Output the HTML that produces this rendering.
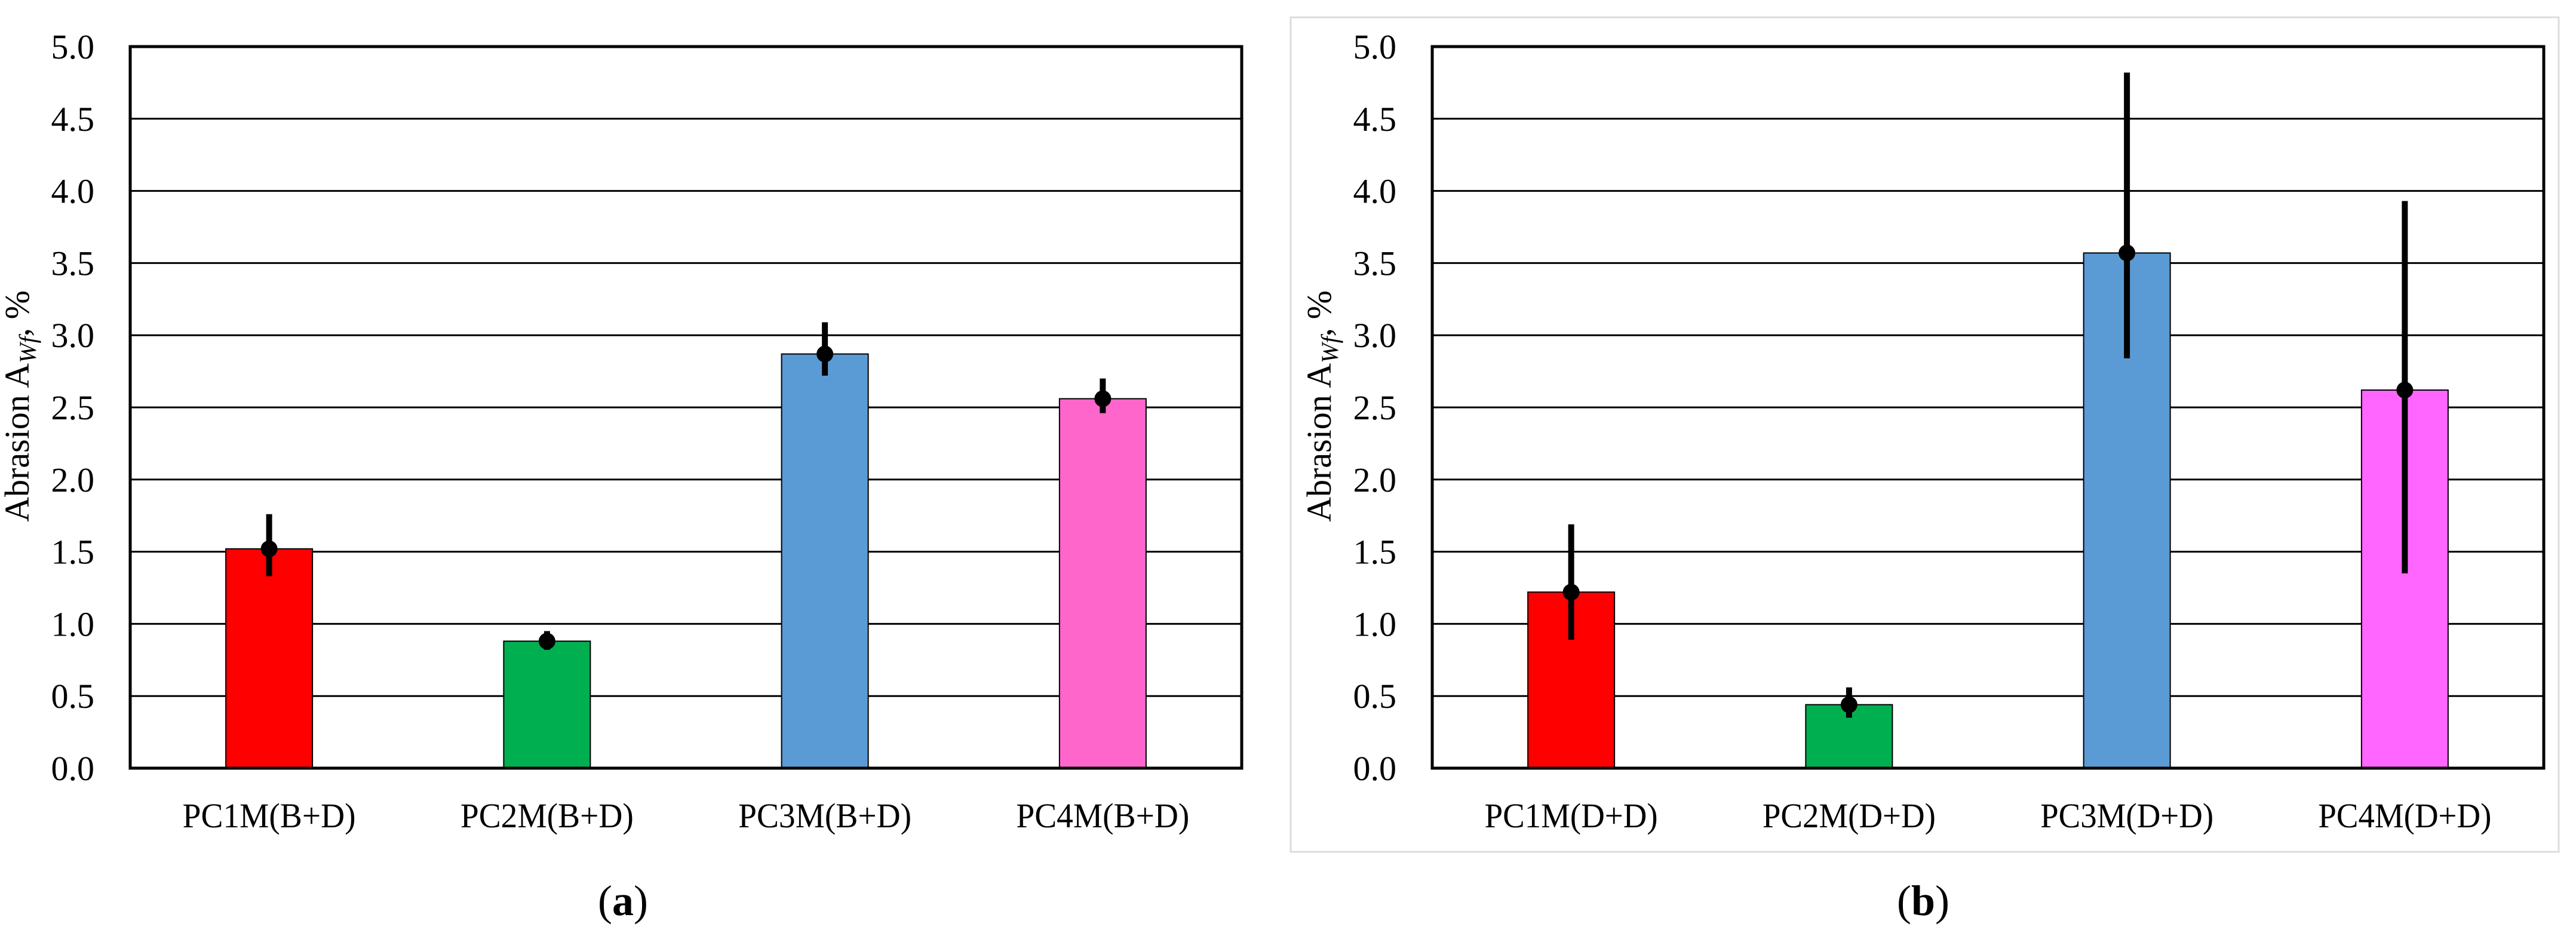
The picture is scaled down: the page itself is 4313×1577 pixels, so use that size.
<!DOCTYPE html>
<html><head><meta charset="utf-8"><style>
html,body{margin:0;padding:0;background:#fff;}
svg{display:block;}
svg text{font-family:"Liberation Serif","DejaVu Serif",serif;fill:#000;}
</style></head><body>
<svg id="fig" width="4313" height="1577" viewBox="0 0 4313 1577" xmlns="http://www.w3.org/2000/svg">
<rect x="2161" y="29" width="2123" height="1397" fill="#fff" stroke="#dcdcdc" stroke-width="3"/>
</svg>
<script>
const categoriesA = ["PC1M(B+D)","PC2M(B+D)","PC3M(B+D)","PC4M(B+D)"];
const valuesA = [1.52, 0.88, 2.87, 2.56];
const errLowA = [1.33, 0.82, 2.72, 2.46];
const errHighA = [1.76, 0.95, 3.09, 2.70];
const categoriesB = ["PC1M(D+D)","PC2M(D+D)","PC3M(D+D)","PC4M(D+D)"];
const valuesB = [1.22, 0.44, 3.57, 2.62];
const errLowB = [0.89, 0.35, 2.84, 1.35];
const errHighB = [1.69, 0.56, 4.82, 3.93];
const yTicks = ["0.0","0.5","1.0","1.5","2.0","2.5","3.0","3.5","4.0","4.5","5.0"];
const colorsA = ["#FF0000","#00B050","#5B9BD5","#FF66CC"];
const colorsB = ["#FF0000","#00B050","#5B9BD5","#FF66FF"];

const NS="http://www.w3.org/2000/svg";
const SERIF='"Liberation Serif", "DejaVu Serif", serif';
const svg=document.getElementById('fig');
function mk(tag,attrs,parent){const e=document.createElementNS(NS,tag);for(const k in attrs)e.setAttribute(k,attrs[k]);if(tag==='text')e.setAttribute('font-family',SERIF);(parent||svg).appendChild(e);return e;}

function drawChart(id,left,cats,vals,lo,hi,cols,titleX,capX,capLetter){
  const top=78,bottom=1286,right=left+1861,ymax=5;
  const y=v=>bottom-(v/ymax)*(bottom-top);
  const band=(right-left)/cats.length;
  const x=i=>left+band*(i+0.5);
  const g=mk('g',{});
  
  
  yTicks.forEach(t=>{
    const v=parseFloat(t);
    if(v>0&&v<ymax){const l=mk('line',{x1:left,x2:right,y1:y(v),y2:y(v),stroke:'#000','stroke-width':3},g);
      
      }
    const tx=mk('text',{x:left-60,y:y(v)+20,'font-size':58,'text-anchor':'end'},g);
    tx.textContent=t;
    
    
  });
  const bw=145;
  vals.forEach((v,i)=>{
    const r=mk('rect',{x:x(i)-bw/2,y:y(v),width:bw,height:bottom-y(v),fill:cols[i],stroke:'#000','stroke-width':2},g);
    
    
  });
  const fr=mk('rect',{x:left,y:top,width:right-left,height:bottom-top,fill:'none',stroke:'#000','stroke-width':5},g);
  
  
  vals.forEach((v,i)=>{
    const e=mk('line',{x1:x(i),x2:x(i),y1:y(lo[i]),y2:y(hi[i]),stroke:'#000','stroke-width':10},g);
    
    
    const c=mk('circle',{cx:x(i),cy:y(v),r:14,fill:'#000'},g);
    
    
    const t=mk('text',{x:x(i),y:1385,'font-size':58,'text-anchor':'middle','textLength':290,'lengthAdjust':'spacingAndGlyphs'},g);
    t.textContent=cats[i];
    
    
  });
  const yt=mk('text',{x:0,y:0,'font-size':58,'text-anchor':'middle',transform:`translate(${titleX+18},680) rotate(-90)`},g);
  
  
  yt.innerHTML='Abrasion A<tspan font-size="40" font-style="italic" dy="12">Wf</tspan><tspan dy="-12">, %</tspan>';
  const cap=mk('text',{x:capX,y:1532,'font-size':72,'text-anchor':'middle'},g);
  cap.innerHTML='(<tspan font-weight="bold">'+capLetter+'</tspan>)';
  
  
}
drawChart('a',218,categoriesA,valuesA,errLowA,errHighA,colorsA,30,1043,'a');
drawChart('b',2398,categoriesB,valuesB,errLowB,errHighB,colorsB,2210,3220,'b');
</script>
</body></html>
